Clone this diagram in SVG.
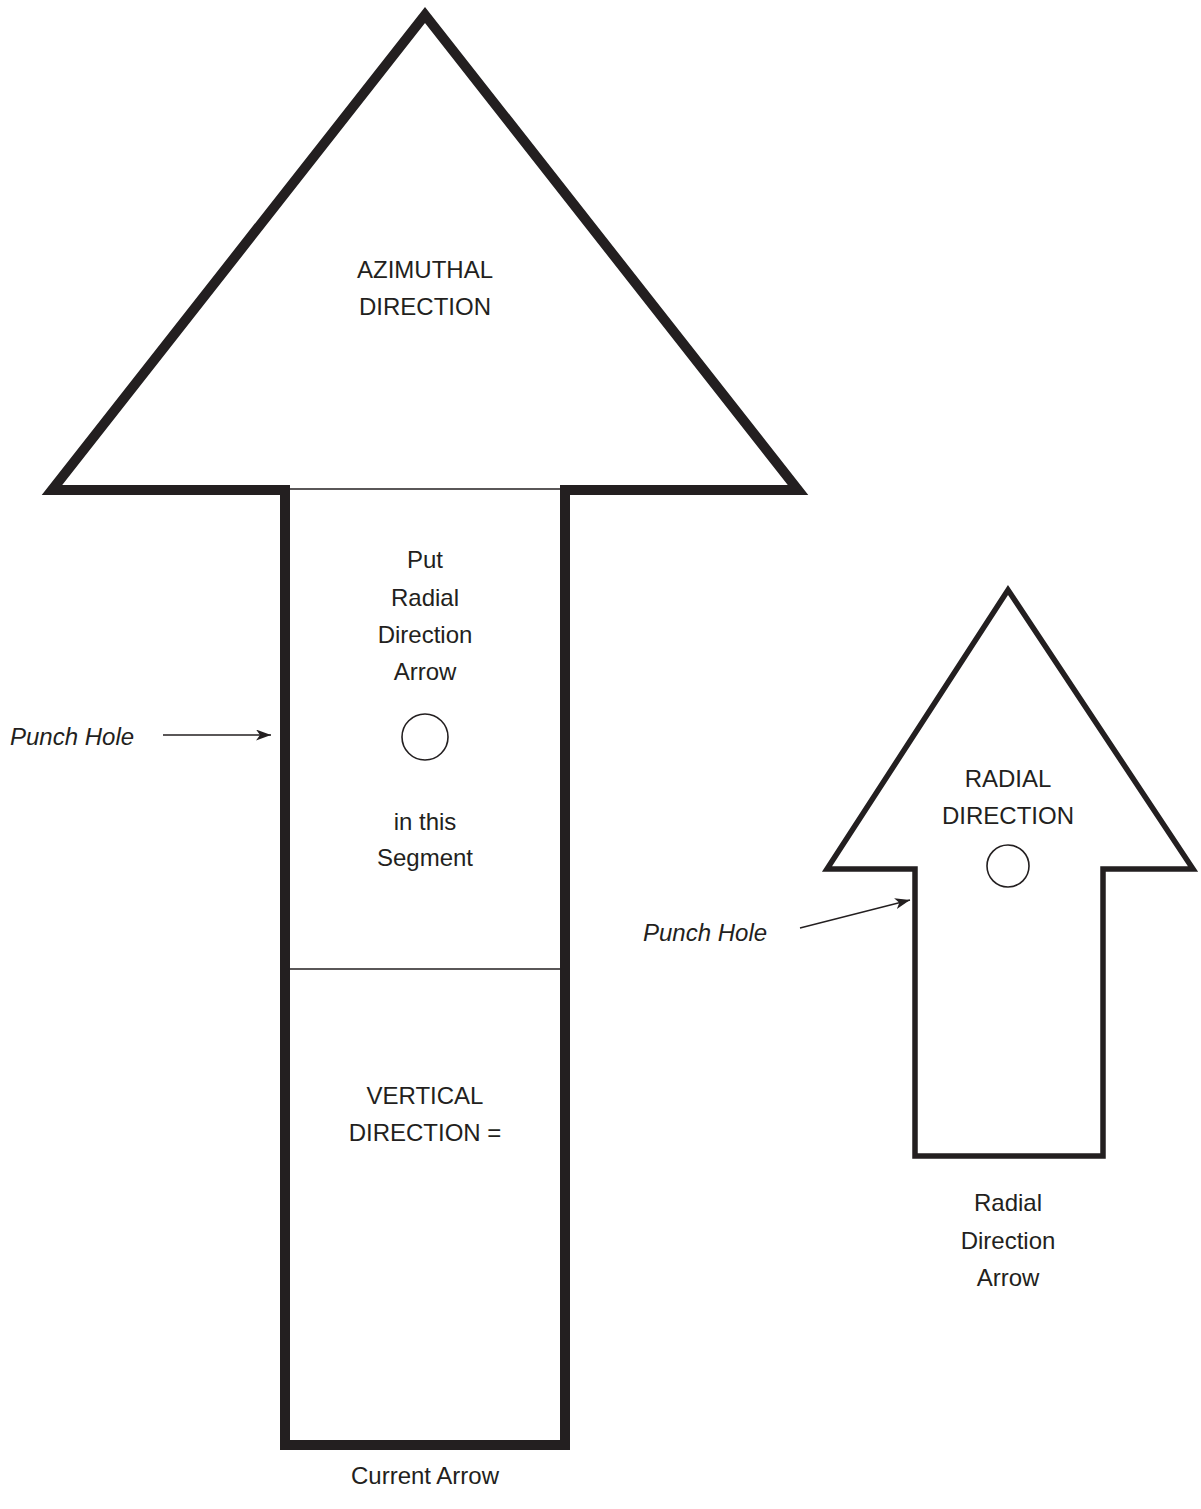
<svg xmlns="http://www.w3.org/2000/svg" width="1201" height="1509" viewBox="0 0 1201 1509">
<style>
text{font-family:"Liberation Sans",Arial,sans-serif;font-size:24px;fill:#231f20;text-anchor:middle}
.it{font-style:italic;text-anchor:start}
.thick{fill:none;stroke:#231f20;stroke-width:10;stroke-linejoin:miter;stroke-miterlimit:10}
.med{fill:none;stroke:#231f20;stroke-width:5.5;stroke-linejoin:miter;stroke-miterlimit:10}
.thin{fill:none;stroke:#231f20;stroke-width:1.6}
.conn{fill:none;stroke:#231f20;stroke-width:1.3}
</style>
<defs>
<marker id="ah" viewBox="0 0 15 11" refX="15" refY="5.5" markerWidth="15" markerHeight="11" markerUnits="userSpaceOnUse" orient="auto">
<path d="M0,0 L15,5.5 L0,11 L4,5.5 Z" fill="#231f20"/>
</marker>
</defs>
<rect width="1201" height="1509" fill="#fff"/>
<g id="current-arrow">
<path class="thick" d="M285,490 L52,490 L425,15 L798,490 L565,490 L565,1445 L285,1445 Z"/>
<line class="thin" x1="288" y1="489" x2="562" y2="489"/>
<line class="thin" x1="288" y1="969" x2="562" y2="969"/>
<circle class="thin" cx="425" cy="737" r="23"/>
<text x="425" y="278">AZIMUTHAL</text>
<text x="425" y="315">DIRECTION</text>
<text x="425" y="568">Put</text>
<text x="425" y="606">Radial</text>
<text x="425" y="643">Direction</text>
<text x="425" y="680">Arrow</text>
<text x="425" y="830">in this</text>
<text x="425" y="866">Segment</text>
<text x="425" y="1104">VERTICAL</text>
<text x="425" y="1141">DIRECTION =</text>
<text x="425" y="1484">Current Arrow</text>
</g>
<g id="radial-arrow">
<path class="med" d="M915,869 L827,869 L1008,590 L1193,869 L1103,869 L1103,1156 L915,1156 Z"/>
<circle class="thin" cx="1008" cy="866" r="21"/>
<text x="1008" y="787">RADIAL</text>
<text x="1008" y="824">DIRECTION</text>
<text x="1008" y="1211">Radial</text>
<text x="1008" y="1249">Direction</text>
<text x="1008" y="1286">Arrow</text>
</g>
<g id="label-punch-1">
<text class="it" x="10" y="745">Punch Hole</text>
</g>
<g id="label-punch-2">
<text class="it" x="643" y="941">Punch Hole</text>
</g>
<g id="connectors">
<line class="conn" x1="163" y1="735" x2="271" y2="735" marker-end="url(#ah)"/>
<line class="conn" x1="800" y1="928" x2="910" y2="900" marker-end="url(#ah)"/>
</g>
</svg>
